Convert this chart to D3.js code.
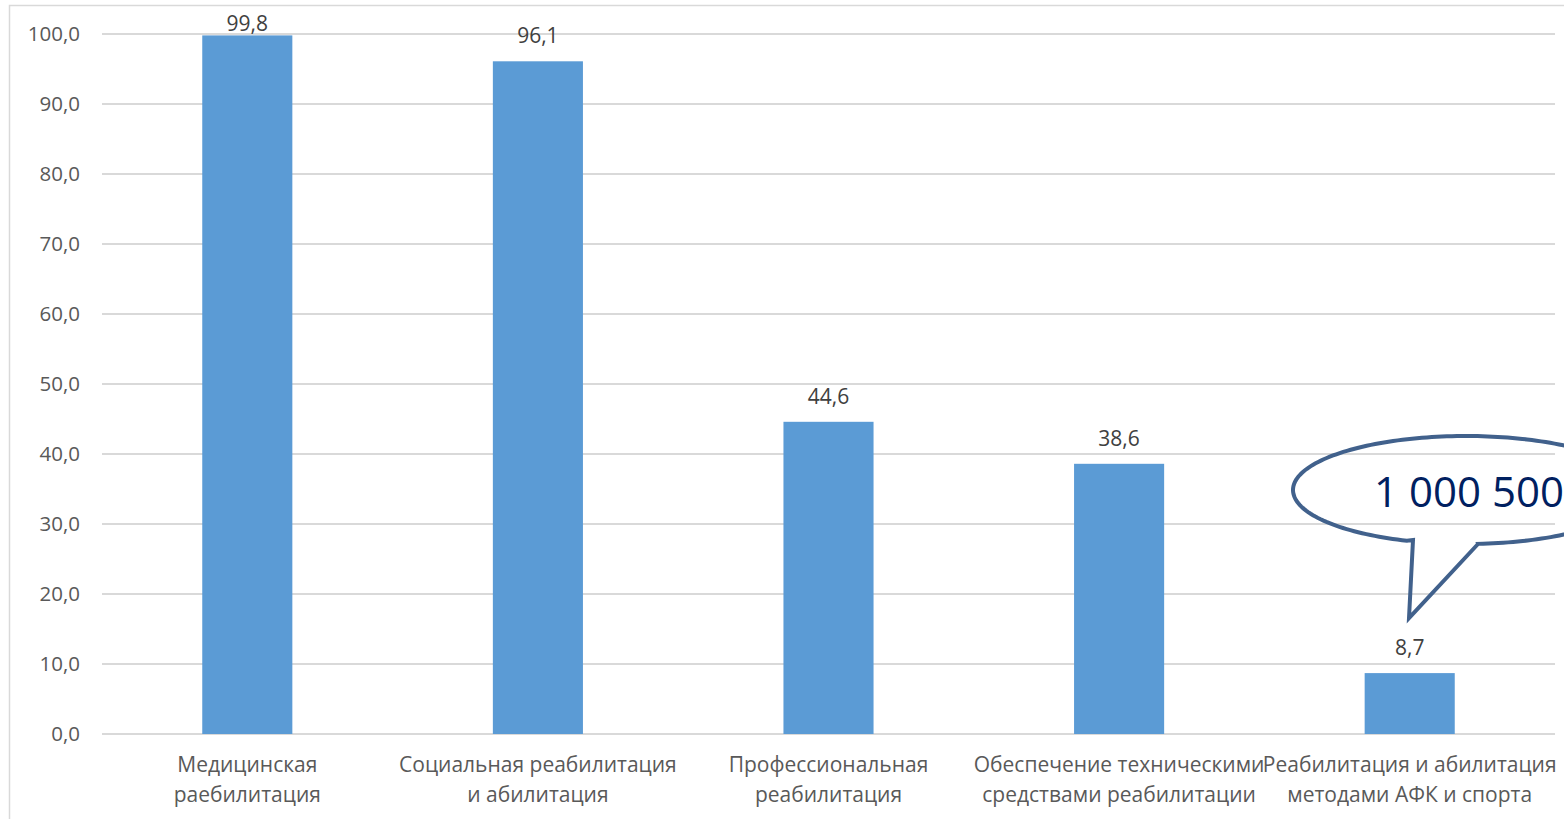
<!DOCTYPE html>
<html><head><meta charset="utf-8">
<script src="https://cdn.jsdelivr.net/npm/d3@7"></script>
<style>body{margin:0;background:#fff;}svg{display:block;}</style>
</head><body>
<script>
const categories = [
  ["Медицинская", "раебилитация"],
  ["Социальная реабилитация", "и абилитация"],
  ["Профессиональная", "реабилитация"],
  ["Обеспечение техническими", "средствами реабилитации"],
  ["Реабилитация и абилитация", "методами АФК и спорта"]
];
const values = [99.8, 96.1, 44.6, 38.6, 8.7];
const yTicks = [0, 10, 20, 30, 40, 50, 60, 70, 80, 90, 100];
const calloutText = "1 000 500";

const W = 1564, H = 819;
const svg = d3.select("body").append("svg").attr("width", W).attr("height", H);
const fmt = v => d3.format(".1f")(v).replace(".", ",");
const font = "'Open Sans', sans-serif";

// frame
svg.append("rect").attr("x", 9.5).attr("y", 5.5).attr("width", W).attr("height", H)
  .attr("fill", "none").attr("stroke", "#d9d9d9").attr("stroke-width", 1.5);

const x = d3.scaleBand().domain(d3.range(values.length)).range([102, 1555]).paddingInner(0.69).paddingOuter(0.345);
const y = d3.scaleLinear().domain([0, 100]).range([734, 34]);

const g = svg.append("g");
// gridlines
g.selectAll("line.grid").data(yTicks).join("line")
  .attr("x1", 102).attr("x2", 1555)
  .attr("y1", d => y(d)).attr("y2", d => y(d))
  .attr("stroke", "#d9d9d9").attr("stroke-width", 2);

// y axis labels
const yAxis = d3.axisLeft(y).tickValues(yTicks).tickFormat(fmt).tickSize(0).tickPadding(22);
const ya = svg.append("g").attr("transform", "translate(102,0)").call(yAxis);
ya.select(".domain").remove();
ya.selectAll("text").attr("fill", "#595959").style("font-family", font).style("font-size", "20.5px");

// bars
g.selectAll("rect.bar").data(values).join("rect")
  .attr("x", (d, i) => x(i)).attr("width", x.bandwidth())
  .attr("y", d => y(d)).attr("height", d => y(0) - y(d))
  .attr("fill", "#5b9bd5");

// value labels
g.selectAll("text.val").data(values).join("text")
  .attr("x", (d, i) => x(i) + x.bandwidth() / 2)
  .attr("y", d => Math.max(y(d) - 18, 31))
  .attr("text-anchor", "middle").attr("fill", "#404040")
  .style("font-family", font).style("font-size", "21px")
  .text(fmt);

// category labels
const xa = svg.append("g").attr("transform", "translate(0,734)")
  .call(d3.axisBottom(x).tickSize(0).tickFormat(""));
xa.select(".domain").remove();
categories.forEach((lines, i) => {
  const t = svg.append("text").attr("text-anchor", "middle").attr("fill", "#595959")
    .style("font-family", font).style("font-size", "21px");
  lines.forEach((ln, j) => {
    t.append("tspan").attr("x", x(i) + x.bandwidth() / 2).attr("y", 772 + j * 30).text(ln);
  });
});

// callout
const cx = 1466, cy = 490, rx = 173, ry = 54;
const b1 = [1413, 540], tip = [1409, 618], b2 = [1478, 544];
const a1 = Math.atan2((b1[1] - cy) / ry, (b1[0] - cx) / rx);
const a2 = Math.atan2((b2[1] - cy) / ry, (b2[0] - cx) / rx);
let path = d3.path();
path.moveTo(b2[0], b2[1]);
path.lineTo(tip[0], tip[1]);
path.lineTo(b1[0], b1[1]);
const steps = 200;
let start = a1, end = a2;
if (end < start) end += 2 * Math.PI;
for (let k = 1; k <= steps; k++) {
  const a = start + (end - start) * k / steps;
  path.lineTo(cx + rx * Math.cos(a), cy + ry * Math.sin(a));
}
path.closePath();
svg.append("path").attr("d", path.toString()).attr("fill", "none")
  .attr("stroke", "#41618c").attr("stroke-width", 4).attr("stroke-linejoin", "miter");
svg.append("text").attr("x", 1374).attr("y", 507).attr("fill", "#002060")
  .style("font-family", font).style("font-size", "42px").text(calloutText);
</script>
</body></html>
